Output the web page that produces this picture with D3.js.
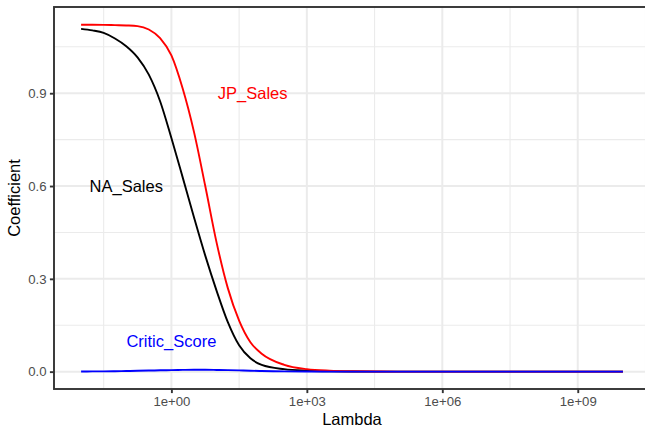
<!DOCTYPE html>
<html>
<head>
<meta charset="utf-8">
<script src="https://cdn.jsdelivr.net/npm/d3@7"></script>
<style>
  body { margin: 0; background: #fff; }
  text { font-family: "Liberation Sans", Arial, sans-serif; }
</style>
</head>
<body>
<div id="chart"></div>
<script>
"use strict";

// log10(lambda) grid where the coefficient paths were read
var logLambda = [-2, -1.75, -1.5, -1.25, -1, -0.75, -0.5, -0.25, 0, 0.25, 0.5, 0.75, 1, 1.25, 1.5, 1.75, 2, 2.5, 3, 3.5, 4, 5, 6, 8, 10];

var naSales = [1.108, 1.103, 1.095, 1.077, 1.052, 1.016, 0.960, 0.874, 0.755, 0.628, 0.499, 0.375, 0.262, 0.160, 0.085, 0.043, 0.022, 0.008, 0.003, 0.001, 0.0004, 0.0001, 0, 0, 0];
var jpSales = [1.1215, 1.1213, 1.121, 1.120, 1.119, 1.117, 1.106, 1.078, 1.022, 0.915, 0.775, 0.600, 0.418, 0.270, 0.165, 0.095, 0.058, 0.022, 0.008, 0.003, 0.0012, 0.0002, 0, 0, 0];
var criticScore = [0.0005, 0.0008, 0.001, 0.0015, 0.002, 0.0028, 0.0035, 0.0043, 0.005, 0.0056, 0.006, 0.006, 0.0055, 0.0048, 0.004, 0.003, 0.002, 0.001, 0.0004, 0.0002, 0.0001, 0, 0, 0, 0];

var seriesNames = ["NA_Sales", "JP_Sales", "Critic_Score"];
var seriesColors = ["black", "red", "blue"];

// where the labels sit (log10 lambda, coefficient)
var labelX = [-1, 1.8, 0];
var labelY = [0.6, 0.9, 0.1];

var xTickValues = [0, 3, 6, 9];
var xTickLabels = ["1e+00", "1e+03", "1e+06", "1e+09"];
var xMinor = [-1.5, 1.5, 4.5, 7.5, 10.5];
var yTickValues = [0, 0.3, 0.6, 0.9];
var yMinor = [0.15, 0.45, 0.75, 1.05];

var W = 645, H = 427;
var panel = { left: 54, top: 7, right: 650, bottom: 389 };

var x = d3.scaleLinear().domain([-2.6, 10.6]).range([panel.left, panel.right]);
var y = d3.scaleLinear().domain([-0.0561, 1.1787]).range([panel.bottom, panel.top]);

var svg = d3.select("#chart").append("svg")
  .attr("width", W)
  .attr("height", H);

// grid
var grid = svg.append("g");
grid.selectAll(".xminor").data(xMinor).join("line")
  .attr("class", "xminor")
  .attr("x1", d => x(d)).attr("x2", d => x(d))
  .attr("y1", panel.top).attr("y2", panel.bottom)
  .attr("stroke", "#ebebeb").attr("stroke-width", 1.1);
grid.selectAll(".yminor").data(yMinor).join("line")
  .attr("class", "yminor")
  .attr("x1", panel.left).attr("x2", panel.right)
  .attr("y1", d => y(d)).attr("y2", d => y(d))
  .attr("stroke", "#ebebeb").attr("stroke-width", 1.1);
grid.selectAll(".xmajor").data(xTickValues).join("line")
  .attr("class", "xmajor")
  .attr("x1", d => x(d)).attr("x2", d => x(d))
  .attr("y1", panel.top).attr("y2", panel.bottom)
  .attr("stroke", "#ebebeb").attr("stroke-width", 2);
grid.selectAll(".ymajor").data(yTickValues).join("line")
  .attr("class", "ymajor")
  .attr("x1", panel.left).attr("x2", panel.right)
  .attr("y1", d => y(d)).attr("y2", d => y(d))
  .attr("stroke", "#ebebeb").attr("stroke-width", 2);

// coefficient paths
var allSeries = [naSales, jpSales, criticScore];
var line = d3.line()
  .x((d, i) => x(logLambda[i]))
  .y(d => y(d))
  .curve(d3.curveMonotoneX);

allSeries.forEach(function(vals, k) {
  svg.append("path")
    .datum(vals)
    .attr("d", line)
    .attr("fill", "none")
    .attr("stroke", seriesColors[k])
    .attr("stroke-width", 1.9);
});

// labels
svg.selectAll(".lab").data(seriesNames).join("text")
  .attr("class", "lab")
  .attr("x", (d, i) => x(labelX[i]))
  .attr("y", (d, i) => y(labelY[i]) + 6)
  .attr("text-anchor", "middle")
  .style("font-size", "16.5px")
  .attr("fill", (d, i) => seriesColors[i])
  .text(d => d);

// panel border
svg.append("rect")
  .attr("x", panel.left).attr("y", panel.top)
  .attr("width", panel.right - panel.left)
  .attr("height", panel.bottom - panel.top)
  .attr("fill", "none")
  .attr("stroke", "#333333")
  .attr("stroke-width", 1.9);

// axes
var xAxis = d3.axisBottom(x)
  .tickValues(xTickValues)
  .tickFormat((d, i) => xTickLabels[i])
  .tickSize(4.1)
  .tickPadding(3.3);
var gx = svg.append("g")
  .attr("transform", "translate(0," + panel.bottom + ")")
  .call(xAxis);

var yAxis = d3.axisLeft(y)
  .tickValues(yTickValues)
  .tickFormat(d3.format(".1f"))
  .tickSize(4.1)
  .tickPadding(3.3);
var gy = svg.append("g")
  .attr("transform", "translate(" + panel.left + ",0)")
  .call(yAxis);

[gx, gy].forEach(function(g) {
  g.select(".domain").remove();
  g.selectAll(".tick line").attr("stroke", "#333333").attr("stroke-width", 1.9);
  g.selectAll(".tick text")
    .attr("fill", "#4d4d4d")
    .style("font-size", "13.2px")
    .style("font-family", "'Liberation Sans', Arial, sans-serif");
});

// axis titles
svg.append("text")
  .attr("x", (panel.left + panel.right) / 2)
  .attr("y", 425)
  .attr("text-anchor", "middle")
  .style("font-size", "16.5px")
  .text("Lambda");

svg.append("text")
  .attr("transform", "translate(20," + (panel.top + panel.bottom) / 2 + ") rotate(-90)")
  .attr("text-anchor", "middle")
  .style("font-size", "16.5px")
  .text("Coefficient");
</script>
</body>
</html>
